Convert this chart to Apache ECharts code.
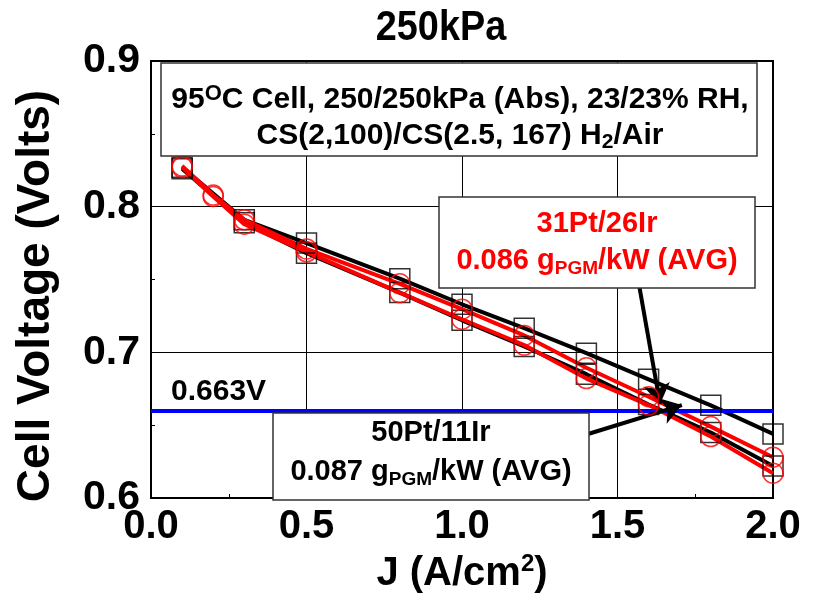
<!DOCTYPE html>
<html><head><meta charset="utf-8">
<script src="https://cdn.jsdelivr.net/npm/echarts@6/dist/echarts.min.js"></script>
<style>html,body{margin:0;padding:0;background:#fff}#c{width:813px;height:601px}</style>
</head><body><div id="c"></div>
<script>
// ---- data ----
const J_black = [0.1, 0.3, 0.5, 0.8, 1.0, 1.2, 1.4, 1.6, 1.8, 2.0];
const V_black1 = [0.827, 0.791, 0.775, 0.7506, 0.733, 0.7166, 0.6994, 0.6815, 0.6636, 0.644];
const V_black2 = [0.826, 0.789, 0.768, 0.741, 0.722, 0.704, 0.685, 0.6642, 0.645, 0.622];
const J_red = [0.1, 0.2, 0.3, 0.5, 0.8, 1.0, 1.2, 1.4, 1.6, 1.8, 2.0];
const V_red1 = [0.828, 0.808, 0.791, 0.771, 0.747, 0.7296, 0.7116, 0.6894, 0.6695, 0.649, 0.628];
const V_red2 = [0.827, 0.807, 0.788, 0.769, 0.741, 0.7227, 0.705, 0.682, 0.6638, 0.6422, 0.617];
const xTickLabels = ['0.0', '0.5', '1.0', '1.5', '2.0'];
const yTickLabels = ['0.6', '0.7', '0.8', '0.9'];
const refVoltage = 0.663;
const arrowRed = [[1.569, 0.7466], [1.637, 0.6645]];
const arrowBlack = [[1.408, 0.6441], [1.707, 0.6638]];

const FONT = '"Liberation Sans", Arial, Helvetica, sans-serif';
const pairs = (xs, ys) => xs.map((x, i) => [x, ys[i]]);

const chart = echarts.init(document.getElementById('c'), null, {renderer: 'canvas'});

function lineSeries(xs, ys, color, z) {
  return {type: 'line', data: pairs(xs, ys), symbol: 'none', z: z, silent: true,
    lineStyle: {color: color, width: 4}, animation: false};
}
function markerSeries(xs, ys, symbol, color) {
  return {type: 'scatter', data: pairs(xs, ys), symbol: symbol, symbolSize: 20, z: 6, silent: true,
    itemStyle: {color: 'rgba(0,0,0,0)', borderColor: color, borderWidth: 1.5}, animation: false};
}

const option = {
  animation: false,
  grid: {left: 151, top: 61, width: 622, height: 442, show: true, borderColor: '#000', borderWidth: 2, backgroundColor: '#fff'},
  xAxis: {
    type: 'value', min: 0, max: 2, interval: 0.5,
    axisLine: {show: true, lineStyle: {color: '#000', width: 2}},
    axisTick: {show: true, inside: true, length: 7, lineStyle: {color: '#000', width: 1}},
    minorTick: {show: true, splitNumber: 2, length: 4, lineStyle: {color: '#000', width: 1}},
    splitLine: {show: true, lineStyle: {color: '#000', width: 1}},
    axisLabel: {margin: 9, fontSize: 40, fontWeight: 'bold', fontFamily: FONT, color: '#000',
      formatter: (v) => xTickLabels[Math.round(v / 0.5)]},
    name: 'J (A/cm{sup|2})', nameLocation: 'middle', nameGap: 54,
    nameTextStyle: {fontSize: 40, fontWeight: 'bold', fontFamily: FONT, color: '#000', lineHeight: 44,
      rich: {sup: {fontSize: 24, fontWeight: 'bold', fontFamily: FONT, color: '#000', verticalAlign: 'top', lineHeight: 20}}}
  },
  yAxis: {
    type: 'value', min: 0.6, max: 0.9, interval: 0.1,
    axisLine: {show: true, lineStyle: {color: '#000', width: 2}},
    axisTick: {show: true, inside: true, length: 8, lineStyle: {color: '#000', width: 1}},
    minorTick: {show: true, splitNumber: 2, length: 4, lineStyle: {color: '#000', width: 1}},
    splitLine: {show: true, lineStyle: {color: '#000', width: 1}},
    axisLabel: {margin: 11, fontSize: 41, fontWeight: 'bold', fontFamily: FONT, color: '#000',
      formatter: (v) => yTickLabels[Math.round((v - 0.6) / 0.1)]}
  },
  series: [
    lineSeries(J_black, V_black1, '#000', 2),
    lineSeries(J_black, V_black2, '#000', 2),
    lineSeries(J_red, V_red1, '#ff0000', 3),
    lineSeries(J_red, V_red2, '#ff0000', 3),
    markerSeries(J_black, V_black1, 'rect', '#000'),
    markerSeries(J_black, V_black2, 'rect', '#000'),
    markerSeries(J_red, V_red1, 'circle', '#ff0000'),
    markerSeries(J_red, V_red2, 'circle', '#ff0000'),
    {
      type: 'line', data: [], z: 8, silent: true,
      markLine: {
        silent: true, animation: false, symbol: 'none', label: {show: false},
        lineStyle: {color: '#0000ff', width: 4, type: 'solid'},
        data: [{yAxis: refVoltage}]
      }
    },
    {
      type: 'line', data: [], z: 9, silent: true,
      markLine: {
        silent: true, animation: false, symbol: ['none', 'arrow'], symbolSize: 20, label: {show: false},
        itemStyle: {color: '#000'},
        lineStyle: {color: '#000', width: 4, type: 'solid'},
        data: [
          [{coord: arrowRed[0]}, {coord: arrowRed[1]}],
          [{coord: arrowBlack[0]}, {coord: arrowBlack[1]}]
        ]
      }
    }
  ],
  graphic: [
    {type: 'text', x: 441, y: 28, z: 100, scaleX: 0.88, style: {text: '250kPa', fill: '#000', align: 'center', verticalAlign: 'middle',
      font: 'bold 43px ' + FONT}},
    {type: 'text', x: 36, y: 296, z: 100, rotation: Math.PI / 2, style: {text: 'Cell Voltage (Volts)', fill: '#000',
      align: 'center', verticalAlign: 'middle', font: 'bold 46px ' + FONT}},
    // top condition box
    {type: 'rect', z: 50, shape: {x: 161, y: 63, width: 596, height: 93},
      style: {fill: '#fff', stroke: '#333', lineWidth: 1.5}},
    {type: 'text', z: 51, x: 460, y: 100, style: {
      text: '95{sup|O}C Cell, 250/250kPa (Abs), 23/23% RH,', fill: '#000', align: 'center', verticalAlign: 'middle',
      font: 'bold 30px ' + FONT, lineHeight: 34,
      rich: {sup: {font: 'bold 22px ' + FONT, fill: '#000', verticalAlign: 'top', lineHeight: 10}}}},
    {type: 'text', z: 51, x: 460, y: 136, style: {
      text: 'CS(2,100)/CS(2.5, 167) H{sub|2}/Air', fill: '#000', align: 'center', verticalAlign: 'middle',
      font: 'bold 30px ' + FONT, lineHeight: 34,
      rich: {sub: {font: 'bold 21px ' + FONT, fill: '#000', verticalAlign: 'bottom', lineHeight: 18}}}},
    // red box
    {type: 'rect', z: 50, shape: {x: 439, y: 197, width: 316, height: 91},
      style: {fill: '#fff', stroke: '#333', lineWidth: 1.5}},
    {type: 'text', z: 51, x: 597, y: 224, style: {
      text: '31Pt/26Ir', fill: '#ff0000', align: 'center', verticalAlign: 'middle', font: 'bold 29px ' + FONT}},
    {type: 'text', z: 51, x: 597, y: 261, style: {
      text: '0.086 g{sub|PGM}/kW (AVG)', fill: '#ff0000', align: 'center', verticalAlign: 'middle',
      font: 'bold 29px ' + FONT, lineHeight: 34,
      rich: {sub: {font: 'bold 19px ' + FONT, fill: '#ff0000', verticalAlign: 'bottom', lineHeight: 18}}}},
    // black box
    {type: 'rect', z: 50, shape: {x: 273, y: 413, width: 316, height: 87},
      style: {fill: '#fff', stroke: '#333', lineWidth: 1.5}},
    {type: 'text', z: 51, x: 431, y: 433, style: {
      text: '50Pt/11Ir', fill: '#000', align: 'center', verticalAlign: 'middle', font: 'bold 29px ' + FONT}},
    {type: 'text', z: 51, x: 431, y: 472, style: {
      text: '0.087 g{sub|PGM}/kW (AVG)', fill: '#000', align: 'center', verticalAlign: 'middle',
      font: 'bold 29px ' + FONT, lineHeight: 34,
      rich: {sub: {font: 'bold 19px ' + FONT, fill: '#000', verticalAlign: 'bottom', lineHeight: 18}}}},
    // reference label
    {type: 'text', z: 51, x: 171, y: 392, style: {
      text: refVoltage.toFixed(3) + 'V', fill: '#000', align: 'left', verticalAlign: 'middle', font: 'bold 30px ' + FONT}}
  ]
};
chart.setOption(option);
</script>
</body></html>
